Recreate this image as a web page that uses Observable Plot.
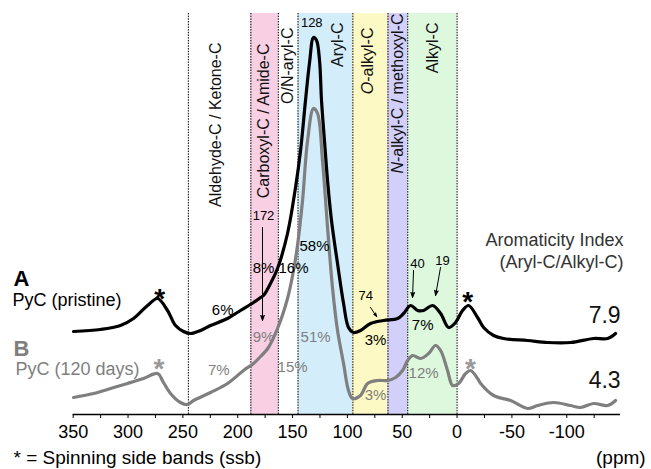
<!DOCTYPE html>
<html>
<head>
<meta charset="utf-8">
<script src="https://cdn.jsdelivr.net/npm/d3@7"></script>
<script src="https://cdn.jsdelivr.net/npm/@observablehq/plot@0.6"></script>
<style>
  body { margin: 0; background: #fff; }
  svg { font-family: "Liberation Sans", Arial, sans-serif; }
</style>
</head>
<body>
<div id="chart"></div>
<script>
// Spectrum A (pristine): chemical shift (ppm) and intensity (a.u.)
const ppmA = [349.7,325.1,306.9,295.0,282.2,273.1,264.0,256.7,249.4,243.0,233.9,224.8,209.3,197.5,185.6,179.2,176.5,170.1,163.7,154.6,147.3,142.7,138.2,134.5,130.9,128.1,125.4,123.6,120.9,118.1,114.5,109.0,103.5,99.0,94.4,88.0,78.9,67.0,54.3,48.8,42.4,36.0,30.5,22.3,15.0,7.7,1.4,-5.0,-10.5,-18.7,-24.2,-33.3,-42.4,-64.3,-82.6,-103.5,-124.5,-137.3,-144.5];
const intA = [83,85,89,96,109,116,104,89,83,81,84,89,96,104,112,117,119,131,146,181,227,264,314,352,377,374,354,314,274,234,194,151,111,87,82,84,91,94,96,101,109,104,104,109,101,87,92,104,109,97,87,79,76,74,72,72,76,76,81];
// Spectrum B (120 days)
const ppmB = [349.7,331.4,315.9,300.5,285.9,273.1,267.7,261.3,252.2,245.8,240.3,224.8,209.3,194.7,185.6,179.2,172.6,163.7,154.6,149.1,145.5,140.9,136.3,130.9,127.2,122.7,118.1,113.6,109.0,103.5,99.0,95.3,88.0,81.6,72.5,63.3,56.1,49.7,45.1,40.6,33.3,26.0,19.6,15.0,8.7,4.1,-1.4,-7.8,-12.3,-18.7,-21.5,-33.3,-48.8,-64.3,-73.5,-88.0,-103.5,-112.6,-124.5,-137.3,-144.5];
const intB = [17,21,26,31,36,41,32,21,12,10,14,22,31,44,51,58,66,86,116,144,169,214,274,306,301,254,187,127,84,51,24,16,19,31,34,34,37,44,54,59,56,61,69,64,44,29,31,41,44,36,31,19,14,6,9,12,9,7,11,9,14];

// Spectral regions (ppm)
const regionNames = ["Aldehyde-C / Ketone-C","Carboxyl-C / Amide-C","O/N-aryl-C","Aryl-C","O-alkyl-C","N-alkyl-C / methoxyl-C","Alkyl-C"];
const regionFrom = [245,188,163,145,95,63,45];
const regionTo   = [188,163,145,95,63,45,0];
const regionColors = ["none","#f8cfe3","none","#d3eefa","#fdf9c4","#d2cffa","#def8de"];
const boundaries = [245,188,163,145,95,63,45,0];
const regionLabelPpm = [220,176.5,154.6,109,81.6,54.3,22.3];
const regionLabelTop = [372,371,387,392,387,401,392];

// Integrated fractions
const pctA = ["6%","8%","16%","58%","3%","7%"];
const pctAppm = [213.7,176.5,149.1,130,74.3,31.4];
const pctAint = [104,146,146,168,74,89];
const pctB = ["7%","9%","15%","51%","3%","12%"];
const pctBppm = [217.3,176.5,150,129,74.3,30.5];
const pctBint = [44,77,47,77,19,41];

// Peak labels and arrows
const peakLabels = ["128","172","74","40","19"];
const peakLabelPpm = [132.5,176.5,83.3,36.0,13.2];
const peakLabelInt = [392,199,119,151,154];
const arrowPeaks = ["172","74","40","19"];
const arrowFromPpm = [177.4,78.9,39.7,15.1];
const arrowFromInt = [187,107,144,147];
const arrowToPpm = [177.4,73.4,40.6,19.6];
const arrowToInt = [94,98,117,119];

// Spinning side bands
const ssbPpm = [271.1,271.9,-9.6,-12.3];
const ssbInt = [122,52,119,52];
const ssbSeries = ["A","B","A","B"];

// Aromaticity index
const aromIndex = ["7.9","4.3"];
const aromInt = [98.5,33.5];

const xTicks = d3.range(350, -149, -25);

const specA = ppmA.map((p,i)=>({ppm:p, y:intA[i]}));
const specB = ppmB.map((p,i)=>({ppm:p, y:intB[i]}));
const regions = regionNames.map((n,i)=>({name:n, x1:regionFrom[i], x2:regionTo[i], fill:regionColors[i], lx:regionLabelPpm[i], ly:regionLabelTop[i]}));
const shaded = regions.filter(r=>r.fill!=="none");
const pA = pctA.map((t,i)=>({t, x:pctAppm[i], y:pctAint[i]}));
const pB = pctB.map((t,i)=>({t, x:pctBppm[i], y:pctBint[i]}));
const peaks = peakLabels.map((t,i)=>({t, x:peakLabelPpm[i], y:peakLabelInt[i]}));
const arrows = arrowPeaks.map((t,i)=>({t, x1:arrowFromPpm[i], y1:arrowFromInt[i], x2:arrowToPpm[i], y2:arrowToInt[i]}));
const ssb = ssbPpm.map((x,i)=>({x, y:ssbInt[i], s:ssbSeries[i]}));

const GRAY = "#7f7f7f";
const FONT = "Liberation Sans, Arial, sans-serif";

const chart = Plot.plot({
  width: 651,
  height: 469,
  marginLeft: 72.7,
  marginRight: 31,
  marginTop: 13,
  marginBottom: 55,
  style: {fontFamily: FONT, background: "#fff", overflow: "visible"},
  x: {domain: [350, -149]},
  y: {domain: [0, 401], axis: null},
  marks: [
    Plot.rect(shaded, {x1:"x1", x2:"x2", y1:0, y2:401, fill:"fill"}),
    Plot.ruleX(boundaries, {y1:0, y2:401, stroke:"#000", strokeWidth:1, strokeDasharray:"1.5,1.2"}),
    Plot.text(regions, {x:"lx", y:"ly", text:"name", rotate:-90, textAnchor:"end", lineAnchor:"middle", fontSize:16, fill:"#111"}),
    Plot.ruleY([0], {stroke:"#000", strokeWidth:1.3}),
    Plot.axisX({ticks: xTicks, tickSize: 4, tickPadding: 7, fontSize: 18, tickFormat: d => (d % 50 === 0 ? String(d) : ""), color:"#000"}),
    Plot.line(specB, {x:"ppm", y:"y", stroke:GRAY, strokeWidth:3.2, curve:"catmull-rom"}),
    Plot.line(specA, {x:"ppm", y:"y", stroke:"#000", strokeWidth:3.2, curve:"catmull-rom"}),
    Plot.text(pA, {x:"x", y:"y", text:"t", fontSize:15, fill:"#000"}),
    Plot.text(pB, {x:"x", y:"y", text:"t", fontSize:15, fill:GRAY}),
    Plot.text(peaks, {x:"x", y:"y", text:"t", fontSize:13, fill:"#000"}),
    Plot.arrow(arrows, {x1:"x1", y1:"y1", x2:"x2", y2:"y2", stroke:"#000", strokeWidth:1, headLength:8, headAngle:40}),
    Plot.text(ssb, {x:"x", y:"y", text:()=>"*", fontSize:28, fontWeight:"bold", fill:d=>d.s==="A"?"#000":"#999", dy:7}),
    // sample labels
    Plot.text([{t:"A", x:404.4, y:136}], {x:"x", y:"y", text:"t", textAnchor:"start", fontSize:22, fontWeight:"bold", fill:"#000"}),
    Plot.text([{t:"PyC (pristine)", x:405.3, y:114}], {x:"x", y:"y", text:"t", textAnchor:"start", fontSize:18, fill:"#000"}),
    Plot.text([{t:"B", x:404.4, y:65.5}], {x:"x", y:"y", text:"t", textAnchor:"start", fontSize:22, fontWeight:"bold", fill:GRAY}),
    Plot.text([{t:"PyC (120 days)", x:402.6, y:45}], {x:"x", y:"y", text:"t", textAnchor:"start", fontSize:18, fill:GRAY}),
    // aromaticity index
    Plot.text([{t:"Aromaticity Index", x:-151.8, y:174}, {t:"(Aryl-C/Alkyl-C)", x:-151.8, y:152}], {x:"x", y:"y", text:"t", textAnchor:"end", fontSize:18, fill:"#333"}),
    Plot.text(aromIndex.map((t,i)=>({t, y:aromInt[i]})), {x:()=>-149.1, y:"y", text:"t", textAnchor:"end", fontSize:23, fill:"#111"}),
    // footers
    Plot.text([{t:"* = Spinning side bands (ssb)", x:404.4, y:-43}], {x:"x", y:"y", text:"t", textAnchor:"start", fontSize:19, fill:"#000"}),
    Plot.text([{t:"(ppm)", x:-171.9, y:-43}], {x:"x", y:"y", text:"t", textAnchor:"end", fontSize:19, fill:"#000"})
  ]
});

// italicise the N and O prefixes
d3.select(chart).selectAll("text").each(function() {
  const el = d3.select(this);
  const txt = el.text();
  if (txt === "N-alkyl-C / methoxyl-C" || txt === "O-alkyl-C") {
    el.text("");
    el.append("tspan").attr("font-style","italic").text(txt[0]);
    el.append("tspan").text(txt.slice(1));
  }
});
// filled arrowheads
d3.select(chart).selectAll("g[aria-label='arrow'] path").attr("fill", "#000");

document.getElementById("chart").appendChild(chart);
</script>
</body>
</html>
